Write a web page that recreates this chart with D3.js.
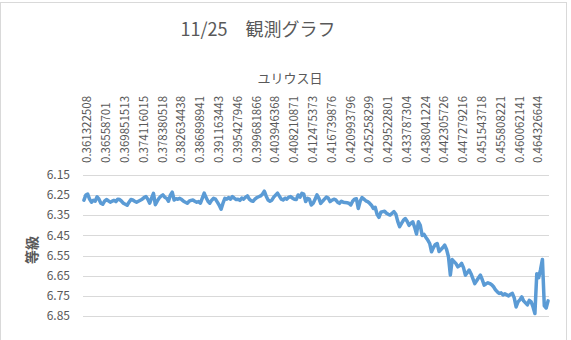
<!DOCTYPE html>
<html>
<head>
<meta charset="utf-8">
<script src="https://cdn.jsdelivr.net/npm/d3@7"></script>
<style>
  body { margin: 0; background: #fff; }
  svg { display: block; }
  text { font-family: "Noto Sans CJK JP", "Noto Sans", sans-serif; fill: #595959; }
</style>
</head>
<body>
<script>
// chart text
const title = '11/25\u3000観測グラフ';
const xTitle = 'ユリウス日';
const yTitle = '等級';

// julian day labels shown on the top axis (every 10th point)
const jdLabels = [
  '0.361322508', '0.36558701', '0.369851513', '0.374116015', '0.378380518',
  '0.382634438', '0.386898941', '0.391163443', '0.395427946', '0.399681866',
  '0.403946368', '0.408210871', '0.412475373', '0.416739876', '0.420993796',
  '0.425258299', '0.429522801', '0.433787304', '0.438041224', '0.442305726',
  '0.447279216', '0.451543718', '0.455808221', '0.460062141', '0.464326644'
];
const labelStep = 10;

const mag = [
  6.275, 6.25, 6.245, 6.27, 6.285, 6.275, 6.28, 6.258, 6.27, 6.29,
  6.295, 6.28, 6.272, 6.278, 6.285, 6.28, 6.276, 6.282, 6.27, 6.272,
  6.28, 6.29, 6.295, 6.30, 6.285, 6.272, 6.274, 6.28, 6.285, 6.28,
  6.275, 6.27, 6.262, 6.257, 6.27, 6.29, 6.265, 6.241, 6.298, 6.28,
  6.265, 6.255, 6.249, 6.26, 6.266, 6.28, 6.25, 6.235, 6.274, 6.268,
  6.27, 6.266, 6.272, 6.28, 6.285, 6.29, 6.28, 6.276, 6.274, 6.28,
  6.285, 6.282, 6.29, 6.265, 6.24, 6.262, 6.28, 6.29, 6.275, 6.266,
  6.27, 6.285, 6.30, 6.32, 6.29, 6.266, 6.27, 6.262, 6.27, 6.257,
  6.265, 6.272, 6.27, 6.276, 6.265, 6.27, 6.26, 6.254, 6.27, 6.278,
  6.28, 6.27, 6.262, 6.258, 6.254, 6.245, 6.23, 6.255, 6.274, 6.28,
  6.275, 6.26, 6.25, 6.24, 6.255, 6.27, 6.274, 6.265, 6.27, 6.26,
  6.257, 6.265, 6.27, 6.272, 6.249, 6.26, 6.241, 6.245, 6.282, 6.266,
  6.27, 6.299, 6.29, 6.27, 6.249, 6.265, 6.291, 6.28, 6.27, 6.26,
  6.265, 6.282, 6.275, 6.27, 6.274, 6.285, 6.291, 6.28, 6.285, 6.287,
  6.288, 6.29, 6.299, 6.28, 6.27, 6.268, 6.316, 6.28, 6.262, 6.27,
  6.278, 6.282, 6.29, 6.30, 6.316, 6.31, 6.345, 6.36, 6.335, 6.332,
  6.33, 6.34, 6.345, 6.349, 6.34, 6.332, 6.345, 6.38, 6.407, 6.39,
  6.375, 6.366, 6.38, 6.40, 6.39, 6.382, 6.41, 6.443, 6.382, 6.40,
  6.45, 6.445, 6.46, 6.473, 6.49, 6.531, 6.51, 6.495, 6.49, 6.53,
  6.52, 6.51, 6.498, 6.52, 6.556, 6.647, 6.57, 6.58, 6.59, 6.606,
  6.6, 6.589, 6.61, 6.647, 6.635, 6.622, 6.64, 6.665, 6.689, 6.675,
  6.66, 6.647, 6.67, 6.697, 6.69, 6.685, 6.689, 6.695, 6.705, 6.72,
  6.73, 6.738, 6.735, 6.745, 6.74, 6.745, 6.75, 6.742, 6.738, 6.76,
  6.805, 6.78, 6.77, 6.755, 6.775, 6.785, 6.795, 6.772, 6.78, 6.805,
  6.838, 6.64, 6.66, 6.62, 6.569, 6.80, 6.81, 6.775
];

// y ticks
const yTicks = [6.15, 6.25, 6.35, 6.45, 6.55, 6.65, 6.75, 6.85];

const width = 571;
const height = 340;
const plot = { left: 83, right: 549, top: 175, bottom: 316 };

const svg = d3.select('body')
  .append('svg')
  .attr('width', width)
  .attr('height', height);

// chart frame
svg.append('rect')
  .attr('x', 0.5)
  .attr('y', 2.5)
  .attr('width', 566)
  .attr('height', 345)
  .attr('fill', '#fff')
  .attr('stroke', '#d9d9d9');

const x = d3.scaleBand()
  .domain(d3.range(mag.length))
  .range([plot.left, plot.right]);

// magnitudes: smaller is brighter, so axis runs downward
const y = d3.scaleLinear()
  .domain([6.15, 6.85])
  .range([plot.top, plot.bottom]);

// gridlines
svg.append('g')
  .selectAll('line')
  .data(yTicks)
  .enter()
  .append('line')
  .attr('x1', plot.left)
  .attr('x2', plot.right)
  .attr('y1', (d) => Math.round(y(d)) + 0.5)
  .attr('y2', (d) => Math.round(y(d)) + 0.5)
  .attr('stroke', '#d9d9d9')
  .attr('stroke-width', 1);

// y tick labels
svg.append('g')
  .selectAll('text')
  .data(yTicks)
  .enter()
  .append('text')
  .attr('x', 70)
  .attr('y', (d) => y(d))
  .attr('dy', '0.35em')
  .attr('text-anchor', 'end')
  .attr('font-size', 12)
  .text((d) => d.toFixed(2));

// x tick labels, rotated, on top
svg.append('g')
  .selectAll('text')
  .data(jdLabels)
  .enter()
  .append('text')
  .attr('transform', (d, i) => {
    const cx = x(i * labelStep) + x.bandwidth() / 2 + 3.5;
    return `translate(${cx}, 163) rotate(-90)`;
  })
  .attr('dy', '0.35em')
  .attr('text-anchor', 'start')
  .attr('font-size', 11.5)
  .text((d) => d);

// the light curve
const line = d3.line()
  .x((d, i) => x(i) + x.bandwidth() / 2)
  .y((d) => y(d));

svg.append('path')
  .datum(mag)
  .attr('d', line)
  .attr('fill', 'none')
  .attr('stroke', '#5b9bd5')
  .attr('stroke-width', 3.5)
  .attr('stroke-linejoin', 'round')
  .attr('stroke-linecap', 'round');

// titles
svg.append('text')
  .attr('x', 258)
  .attr('y', 36)
  .attr('text-anchor', 'middle')
  .attr('font-size', 18)
  .text(title);

svg.append('text')
  .attr('x', 290)
  .attr('y', 83)
  .attr('text-anchor', 'middle')
  .attr('font-size', 13)
  .text(xTitle);

svg.append('text')
  .attr('transform', 'translate(37, 250) rotate(-90)')
  .attr('text-anchor', 'middle')
  .attr('font-size', 14)
  .attr('font-weight', 'bold')
  .text(yTitle);
</script>
</body>
</html>
